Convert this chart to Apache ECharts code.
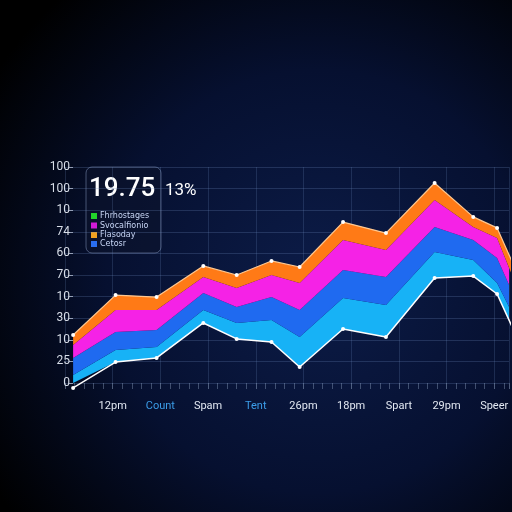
<!DOCTYPE html>
<html>
<head>
<meta charset="utf-8">
<script src="https://cdn.jsdelivr.net/npm/echarts@6/dist/echarts.min.js"></script>
<style>
  html, body { margin: 0; padding: 0; background: #000; }
  #chart { width: 512px; height: 512px; }
</style>
</head>
<body>
<div id="chart"></div>
<script>
  // x positions of the points (1 unit = one label step)
  var xPos = [0.17, 1.06, 1.92, 2.9, 3.6, 4.33, 4.92, 5.83, 6.73, 7.75, 8.56, 9.06, 9.5];

  // stacked layers, bottom to top
  var baseVals    = [-2.3, 9.7, 11.6, 27.8, 20.4, 19.0, 7.4, 25.0, 21.3, 48.6, 49.5, 41.2, 20];
  var cyanVals    = [3.7, 5.6, 5.1, 6.0, 7.4, 10.2, 13.9, 14.4, 14.8, 12.0, 7.5, 5.1, 7];
  var blueVals    = [7.9, 8.3, 7.8, 7.9, 7.4, 10.6, 12.5, 12.9, 13.0, 11.6, 9.2, 11.6, 9];
  var magentaVals = [6.0, 10.2, 9.3, 7.4, 8.8, 10.2, 12.5, 13.9, 12.5, 12.5, 6.0, 9.2, 7];
  var orangeVals  = [4.6, 6.9, 6.0, 5.1, 6.0, 6.5, 7.4, 8.3, 7.8, 7.9, 4.7, 4.7, 7];

  var xLabels = ['12pm', 'Count', 'Spam', 'Tent', '26pm', '18pm', 'Spart', '29pm', 'Speer'];
  var yLabels = ['0', '25', '10', '30', '10', '70', '60', '74', '10', '100', '100'];

  var legendNames = ['Fhrhostages', 'Svocalfionio', 'Flasoday', 'Cetosr'];
  var legendColors = ['#22d42a', '#d21ad8', '#f0a020', '#2a6ef0'];

  // value first so the stack runs on y, x second
  function pairs(vals) {
    return xPos.map(function (x, i) { return [vals[i], x]; });
  }

  var chart = echarts.init(document.getElementById('chart'));

  var graphics = [
    {
      type: 'rect',
      shape: { x: 86, y: 167, width: 75, height: 86, r: 6 },
      style: { fill: 'rgba(12,20,44,0.55)', stroke: 'rgba(150,170,210,0.45)', lineWidth: 1 }
    },
    {
      type: 'text', x: 89, y: 189,
      style: { text: '19.75', fill: '#ffffff', font: '500 26px Roboto', textVerticalAlign: 'middle' }
    },
    {
      type: 'text', x: 165, y: 191,
      style: { text: '13%', fill: '#ffffff', font: '17px Roboto', textVerticalAlign: 'middle' }
    }
  ];
  var legendY = [216, 225.5, 235, 244];
  legendNames.forEach(function (name, i) {
    graphics.push({
      type: 'rect',
      shape: { x: 91, y: legendY[i] - 3, width: 6, height: 6 },
      style: { fill: legendColors[i] }
    });
    graphics.push({
      type: 'text', x: 100, y: legendY[i],
      style: { text: name, fill: '#c8d6f5', font: '8px "DejaVu Sans"', textVerticalAlign: 'middle' }
    });
  });

  var enc = { x: 1, y: 0 };

  var option = {
    backgroundColor: {
      type: 'radial', x: 0.62, y: 0.55, r: 0.75,
      colorStops: [
        { offset: 0, color: '#0c1c48' },
        { offset: 0.55, color: '#061030' },
        { offset: 1, color: '#000000' }
      ]
    },
    animation: false,
    grid: { left: 65, right: 0, top: 167, bottom: 129 },
    xAxis: {
      type: 'value',
      min: 0,
      max: 9.31,
      interval: 1,
      offset: 8,
      axisLine: { show: false },
      axisTick: { show: true, length: 6, lineStyle: { color: 'rgba(150,170,200,0.5)' } },
      minorTick: { show: true, splitNumber: 5, length: 6, lineStyle: { color: 'rgba(150,170,200,0.4)' } },
      splitLine: { show: true, lineStyle: { color: 'rgba(110,140,190,0.22)' } },
      axisLabel: {
        margin: 10,
        fontSize: 11,
        fontFamily: 'Roboto',
        color: function (v) {
          var s = xLabels[v - 1];
          return (s === 'Count' || s === 'Tent') ? '#3b9ce8' : '#e2e8f2';
        },
        formatter: function (v) {
          return Number.isInteger(v) && v >= 1 && v <= xLabels.length ? xLabels[v - 1] : '';
        }
      }
    },
    yAxis: {
      type: 'value',
      min: 0,
      max: 100,
      interval: 10,
      offset: -8,
      axisLine: { show: false },
      axisTick: { show: true, length: 4, lineStyle: { color: 'rgba(200,210,230,0.7)' } },
      splitLine: { show: true, lineStyle: { color: 'rgba(110,140,190,0.25)' } },
      axisLabel: {
        margin: 3,
        fontSize: 12,
        fontFamily: 'Roboto',
        color: '#d8dee8',
        formatter: function (v) { return yLabels[Math.round(v / 10)]; }
      }
    },
    graphic: graphics,
    series: [
      {
        name: 'base', type: 'line', stack: 'all', clip: false, z: 5, encode: enc,
        data: pairs(baseVals),
        symbol: 'circle', symbolSize: 4,
        itemStyle: { color: '#ffffff' },
        lineStyle: { color: '#ffffff', width: 1.5 }
      },
      {
        name: 'cyan', type: 'line', stack: 'all', clip: false, showSymbol: false, encode: enc,
        data: pairs(cyanVals),
        lineStyle: { width: 0 },
        areaStyle: { color: '#17b2f6', opacity: 1 }
      },
      {
        name: 'blue', type: 'line', stack: 'all', clip: false, showSymbol: false, encode: enc,
        data: pairs(blueVals),
        lineStyle: { width: 0 },
        areaStyle: { color: '#1f6af0', opacity: 1 }
      },
      {
        name: 'magenta', type: 'line', stack: 'all', clip: false, showSymbol: false, encode: enc,
        data: pairs(magentaVals),
        lineStyle: { width: 0 },
        areaStyle: { color: '#f522e6', opacity: 1 }
      },
      {
        name: 'orange', type: 'line', stack: 'all', clip: false, z: 4, encode: enc,
        data: pairs(orangeVals),
        symbol: 'circle', symbolSize: 4,
        itemStyle: { color: '#ffffff' },
        lineStyle: { color: '#ffc890', width: 1.2 },
        areaStyle: { color: '#ff7a16', opacity: 1 }
      }
    ]
  };

  chart.setOption(option);
</script>
</body>
</html>
